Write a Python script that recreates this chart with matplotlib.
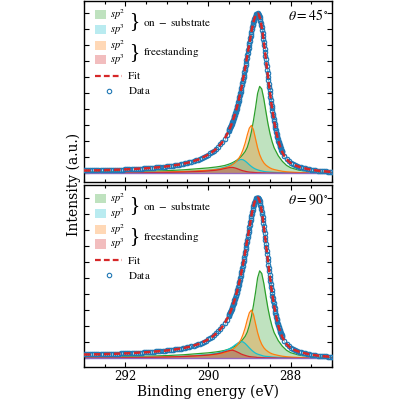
import numpy as np
import matplotlib
matplotlib.use('Agg')
import matplotlib.pyplot as plt
from matplotlib.patches import Rectangle
from matplotlib.lines import Line2D
from matplotlib.ticker import MultipleLocator

plt.rcParams['font.family'] = 'DejaVu Serif'
plt.rcParams['mathtext.fontset'] = 'stix'

# measured spectrum (normalised): coarse steps in the tails, fine steps over the peak
energy = np.round(np.concatenate([np.arange(293.0, 289.549, -0.05),
                                  np.arange(289.50, 288.199, -0.01),
                                  np.arange(288.15, 286.999, -0.05)]), 2)

tail_45 = [
    0.018, 0.018, 0.018, 0.018, 0.019, 0.019, 0.019, 0.019, 0.020, 0.020,
    0.020, 0.021, 0.021, 0.022, 0.022, 0.022, 0.023, 0.023, 0.024, 0.024,
    0.025, 0.025, 0.026, 0.027, 0.027, 0.028, 0.029, 0.030, 0.030, 0.031,
    0.032, 0.033, 0.034, 0.035, 0.036, 0.037, 0.038, 0.040, 0.041, 0.042,
    0.044, 0.045, 0.047, 0.049, 0.051, 0.053, 0.055, 0.057, 0.060, 0.063,
    0.066, 0.069, 0.072, 0.076, 0.081, 0.085, 0.091, 0.096, 0.103, 0.109,
    0.117, 0.125, 0.133, 0.143, 0.154, 0.167, 0.181, 0.197, 0.216, 0.239,
]
tail_90 = [
    0.024, 0.024, 0.024, 0.024, 0.025, 0.025, 0.025, 0.025, 0.026, 0.026,
    0.026, 0.027, 0.027, 0.028, 0.028, 0.028, 0.029, 0.029, 0.030, 0.030,
    0.031, 0.031, 0.032, 0.033, 0.033, 0.034, 0.035, 0.036, 0.036, 0.037,
    0.038, 0.039, 0.040, 0.041, 0.042, 0.043, 0.044, 0.045, 0.046, 0.047,
    0.049, 0.050, 0.052, 0.053, 0.055, 0.057, 0.059, 0.061, 0.063, 0.066,
    0.069, 0.072, 0.075, 0.079, 0.083, 0.087, 0.092, 0.097, 0.104, 0.110,
    0.118, 0.126, 0.134, 0.144, 0.155, 0.168, 0.182, 0.198, 0.217, 0.240,
]
# 289.50 -> 288.20 eV, same for both angles within reading accuracy
peak = [
    0.265, 0.270, 0.276, 0.282, 0.288, 0.295, 0.301, 0.308, 0.315, 0.322,
    0.329, 0.336, 0.344, 0.352, 0.360, 0.368, 0.377, 0.386, 0.395, 0.404,
    0.414, 0.424, 0.434, 0.444, 0.455, 0.466, 0.477, 0.488, 0.500, 0.512,
    0.524, 0.537, 0.550, 0.563, 0.576, 0.590, 0.604, 0.618, 0.633, 0.647,
    0.662, 0.677, 0.692, 0.708, 0.723, 0.738, 0.754, 0.769, 0.785, 0.800,
    0.815, 0.830, 0.845, 0.859, 0.873, 0.887, 0.900, 0.913, 0.925, 0.936,
    0.946, 0.956, 0.965, 0.973, 0.980, 0.986, 0.991, 0.995, 0.998, 0.999,
    1.000,
    0.999, 0.996, 0.992, 0.985, 0.977, 0.967, 0.956, 0.943, 0.928, 0.913,
    0.896, 0.879, 0.860, 0.841, 0.820, 0.800, 0.779, 0.757, 0.736, 0.714,
    0.692, 0.670, 0.648, 0.626, 0.604, 0.583, 0.561, 0.541, 0.520, 0.500,
    0.480, 0.461, 0.442, 0.424, 0.407, 0.389, 0.373, 0.356, 0.341, 0.326,
    0.311, 0.297, 0.284, 0.271, 0.259, 0.247, 0.236, 0.225, 0.215, 0.205,
    0.196, 0.187, 0.179, 0.171, 0.163, 0.156, 0.149, 0.143, 0.137, 0.131,
]
# 288.15 -> 287.00 eV
right_tail = [
    0.107, 0.089, 0.075, 0.065, 0.057, 0.051, 0.046, 0.041, 0.037, 0.034,
    0.031, 0.028, 0.025, 0.023, 0.021, 0.019, 0.017, 0.016, 0.014, 0.013,
    0.012, 0.011, 0.010, 0.009,
]
data_45 = tail_45 + peak + right_tail
data_90 = tail_90 + peak + right_tail

# fitted components
comp_energy = [293.0, 292.5, 292.0, 291.5, 291.0, 290.6, 290.3, 290.0, 289.8, 289.7,
               289.6, 289.5, 289.45, 289.4, 289.35, 289.3, 289.25, 289.2, 289.15, 289.1,
               289.05, 289.0, 288.95, 288.9, 288.85, 288.8, 288.75, 288.7, 288.65, 288.6,
               288.55, 288.5, 288.45, 288.4, 288.3, 288.2, 288.1, 288.0, 287.8, 287.5, 287.0]

sub_sp2_45 = [0.008, 0.009, 0.011, 0.013, 0.017, 0.022, 0.028, 0.034, 0.040, 0.044,
              0.049, 0.057, 0.062, 0.068, 0.075, 0.083, 0.093, 0.105, 0.120, 0.137,
              0.163, 0.205, 0.260, 0.330, 0.410, 0.500, 0.544, 0.528, 0.467, 0.388,
              0.312, 0.249, 0.199, 0.160, 0.110, 0.075, 0.050, 0.035, 0.020, 0.010, 0.004]
sub_sp3_45 = [0.003, 0.004, 0.005, 0.006, 0.008, 0.011, 0.015, 0.019, 0.026, 0.031,
              0.038, 0.047, 0.053, 0.060, 0.068, 0.076, 0.083, 0.087, 0.085, 0.077,
              0.066, 0.054, 0.043, 0.034, 0.027, 0.022, 0.018, 0.015, 0.012, 0.010,
              0.009, 0.008, 0.007, 0.006, 0.005, 0.004, 0.003, 0.003, 0.002, 0.001, 0.001]
free_sp2_45 = [0.004, 0.005, 0.006, 0.007, 0.009, 0.012, 0.015, 0.019, 0.024, 0.028,
               0.034, 0.042, 0.048, 0.056, 0.066, 0.079, 0.096, 0.118, 0.150, 0.190,
               0.240, 0.283, 0.300, 0.273, 0.216, 0.160, 0.117, 0.087, 0.066, 0.052,
               0.042, 0.034, 0.028, 0.024, 0.018, 0.013, 0.010, 0.008, 0.005, 0.003, 0.002]
free_sp3_45 = [0.002, 0.002, 0.003, 0.004, 0.006, 0.008, 0.011, 0.015, 0.020, 0.024,
               0.030, 0.035, 0.037, 0.037, 0.034, 0.030, 0.025, 0.020, 0.016, 0.013,
               0.010, 0.008, 0.007, 0.006, 0.005, 0.004, 0.004, 0.003, 0.003, 0.002,
               0.002, 0.002, 0.002, 0.002, 0.001, 0.001, 0.001, 0.001, 0.001, 0.001, 0.001]

sub_sp2_90 = sub_sp2_45
sub_sp3_90 = [0.004, 0.005, 0.006, 0.007, 0.010, 0.013, 0.018, 0.023, 0.031, 0.037,
              0.046, 0.056, 0.064, 0.072, 0.082, 0.091, 0.100, 0.104, 0.102, 0.092,
              0.079, 0.065, 0.052, 0.041, 0.032, 0.026, 0.022, 0.018, 0.014, 0.012,
              0.011, 0.010, 0.008, 0.007, 0.006, 0.005, 0.004, 0.004, 0.002, 0.001, 0.001]
free_sp2_90 = free_sp2_45
free_sp3_90 = [0.003, 0.003, 0.004, 0.005, 0.008, 0.011, 0.015, 0.020, 0.027, 0.032,
               0.040, 0.047, 0.050, 0.050, 0.046, 0.040, 0.034, 0.027, 0.022, 0.018,
               0.014, 0.011, 0.009, 0.008, 0.007, 0.005, 0.005, 0.004, 0.004, 0.003,
               0.003, 0.003, 0.003, 0.003, 0.001, 0.001, 0.001, 0.001, 0.001, 0.001, 0.001]

data_err = 0.012
dash = (2.6, 1.4)


def draw_panel(ax, data, comps, angle):
    colors = ['tab:green', 'tab:cyan', 'tab:orange', 'tab:red']
    for vals, col in zip(comps, colors):
        ax.fill_between(comp_energy, 0, vals, color=col, alpha=0.3, lw=0)
        ax.plot(comp_energy, vals, color=col, lw=0.9)
    ax.plot(comp_energy, [0.0] * len(comp_energy), color='tab:purple', lw=1.0)
    ax.errorbar(energy, data, yerr=data_err, fmt='o', ms=3.2, mfc='none',
                mec='tab:blue', mew=0.8, ecolor='#8ecae6', elinewidth=0.8,
                capsize=1.5, capthick=0.8, zorder=3)
    ax.plot(energy, data, ls='--', dashes=dash, color='tab:red', lw=1.8, zorder=4)

    ax.set_xlim(293, 287)
    ax.set_ylim(-0.054, 1.078)
    ax.xaxis.set_major_locator(MultipleLocator(2))
    ax.xaxis.set_minor_locator(MultipleLocator(0.5))
    ax.yaxis.set_major_locator(MultipleLocator(0.1))
    ax.tick_params(which='both', direction='in', top=True, right=True,
                   labelsize=8.5, pad=2)
    ax.tick_params(which='major', length=3.5, width=0.8)
    ax.tick_params(which='minor', length=2, width=0.8)
    ax.set_yticklabels([])
    for sp in ax.spines.values():
        sp.set_linewidth(1.0)

    ax.text(0.985, 0.92, r'$\theta = %d^\circ$' % angle, transform=ax.transAxes,
            ha='right', va='center', fontsize=10)

    # hand-made legend
    t = ax.transAxes
    rows = [(0.925, 'tab:green', r'$sp^2$'), (0.845, 'tab:cyan', r'$sp^3$'),
            (0.756, 'tab:orange', r'$sp^2$'), (0.676, 'tab:red', r'$sp^3$')]
    for y, col, lab in rows:
        ax.add_patch(Rectangle((0.044, y - 0.025), 0.045, 0.05, transform=t,
                               color=col, alpha=0.3, lw=0))
        ax.text(0.105, y, lab, transform=t, va='center', fontsize=7.5)
    for y, lab in [(0.885, r'$\mathrm{on}\ -\ \mathrm{substrate}$'),
                   (0.716, r'$\mathrm{freestanding}$')]:
        ax.text(0.204, y, '}', transform=t, va='center', ha='center', fontsize=15,
                family='Liberation Serif')
        ax.text(0.236, y, lab, transform=t, va='center', fontsize=8)
    ax.add_line(Line2D([0.044, 0.153], [0.586, 0.586], transform=t, color='tab:red',
                       ls='--', dashes=dash, lw=1.6))
    ax.text(0.173, 0.586, r'$\mathrm{Fit}$', transform=t, va='center', fontsize=8)
    ax.add_line(Line2D([0.101], [0.503], transform=t, marker='o', ms=3.2, mfc='none',
                       mec='tab:blue', mew=0.8, ls='none'))
    ax.text(0.177, 0.503, r'$\mathrm{Data}$', transform=t, va='center', fontsize=8)


fig = plt.figure(figsize=(4, 4), dpi=100)
ax1 = fig.add_axes([0.21, 0.545, 0.62, 0.4525])
ax2 = fig.add_axes([0.21, 0.0825, 0.62, 0.455])

draw_panel(ax1, data_45, [sub_sp2_45, sub_sp3_45, free_sp2_45, free_sp3_45], 45)
draw_panel(ax2, data_90, [sub_sp2_90, sub_sp3_90, free_sp2_90, free_sp3_90], 90)
ax1.set_xticklabels([])

ax2.set_xlabel('Binding energy (eV)', fontsize=10, labelpad=1)
fig.text(0.185, 0.54, 'Intensity (a.u.)', rotation=90, ha='center', va='center', fontsize=10)

fig.savefig('out.png', dpi=100)
